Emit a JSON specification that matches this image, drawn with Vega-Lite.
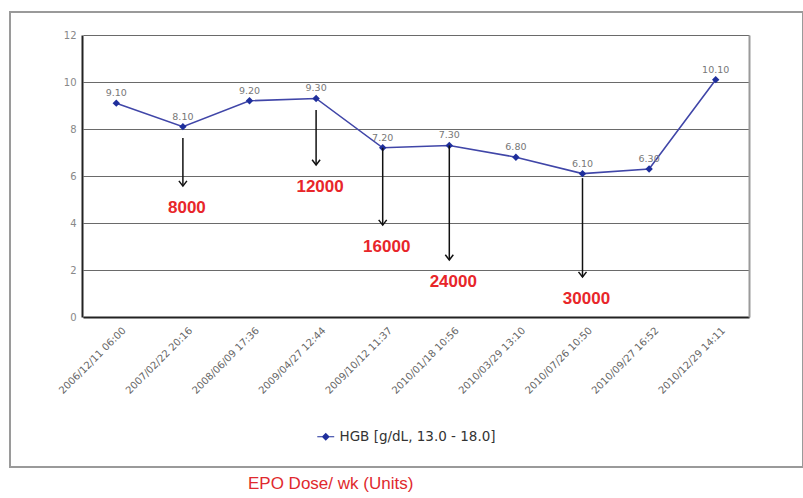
{
  "$schema": "https://vega.github.io/schema/vega-lite/v6.json",
  "width": 793,
  "height": 455,
  "autosize": "none",
  "padding": {"left": 10, "top": 12, "right": 0, "bottom": 31},
  "background": "white",
  "config": {"view": {"stroke": "#9a9a9a", "strokeWidth": 2}, "font": "DejaVu Sans"},
  "title": {"text": "EPO Dose/ wk (Units)", "orient": "bottom", "anchor": "start", "dx": 238, "offset": 9, "color": "#e0292e", "font": "Liberation Sans", "fontSize": 17, "fontWeight": "normal"},
  "datasets": {
    "hgb": [
      {"date": "2006/12/11 06:00", "hgb": 9.1, "series": "HGB [g/dL, 13.0 - 18.0]"},
      {"date": "2007/02/22 20:16", "hgb": 8.1, "series": "HGB [g/dL, 13.0 - 18.0]"},
      {"date": "2008/06/09 17:36", "hgb": 9.2, "series": "HGB [g/dL, 13.0 - 18.0]"},
      {"date": "2009/04/27 12:44", "hgb": 9.3, "series": "HGB [g/dL, 13.0 - 18.0]"},
      {"date": "2009/10/12 11:37", "hgb": 7.2, "series": "HGB [g/dL, 13.0 - 18.0]"},
      {"date": "2010/01/18 10:56", "hgb": 7.3, "series": "HGB [g/dL, 13.0 - 18.0]"},
      {"date": "2010/03/29 13:10", "hgb": 6.8, "series": "HGB [g/dL, 13.0 - 18.0]"},
      {"date": "2010/07/26 10:50", "hgb": 6.1, "series": "HGB [g/dL, 13.0 - 18.0]"},
      {"date": "2010/09/27 16:52", "hgb": 6.3, "series": "HGB [g/dL, 13.0 - 18.0]"},
      {"date": "2010/12/29 14:11", "hgb": 10.1, "series": "HGB [g/dL, 13.0 - 18.0]"}
    ],
    "epo": [
      {"date": "2007/02/22 20:16", "start": 7.62, "end": 5.57, "dose": "8000"},
      {"date": "2009/04/27 12:44", "start": 8.81, "end": 6.47, "dose": "12000"},
      {"date": "2009/10/12 11:37", "start": 7.2, "end": 3.91, "dose": "16000"},
      {"date": "2010/01/18 10:56", "start": 7.3, "end": 2.43, "dose": "24000"},
      {"date": "2010/07/26 10:50", "start": 5.91, "end": 1.7, "dose": "30000"}
    ]
  },
  "layer": [
    {
      "data": {"name": "hgb"},
      "mark": {"type": "line", "color": "#4046a8", "strokeWidth": 1.6},
      "encoding": {
        "x": {"field": "date", "type": "nominal",
          "scale": {"type": "point", "domain": ["2006/12/11 06:00", "2007/02/22 20:16", "2008/06/09 17:36", "2009/04/27 12:44", "2009/10/12 11:37", "2010/01/18 10:56", "2010/03/29 13:10", "2010/07/26 10:50", "2010/09/27 16:52", "2010/12/29 14:11"], "range": [73, 739], "padding": 0.5},
          "axis": {"orient": "bottom", "offset": -150, "labelAngle": -45, "labelFontSize": 10, "labelColor": "#666", "ticks": false, "domainColor": "#222", "domainWidth": 2, "title": null, "labelPadding": 8, "labelOffset": 4, "grid": false}},
        "y": {"field": "hgb", "type": "quantitative",
          "scale": {"domain": [0, 12], "range": [305, 23], "nice": false},
          "axis": {"orient": "left", "offset": -72, "values": [0, 2, 4, 6, 8, 10, 12], "grid": true, "gridColor": "#6a6a6a", "gridWidth": 1, "domainColor": "#222", "domainWidth": 2, "ticks": false, "labelColor": "#888", "labelFontSize": 10, "labelPadding": 6, "title": null}}
      }
    },
    {
      "data": {"name": "hgb"},
      "mark": {"type": "point", "shape": "diamond", "filled": true, "size": 55, "opacity": 1},
      "encoding": {
        "x": {"field": "date", "type": "nominal"},
        "y": {"field": "hgb", "type": "quantitative", "axis": null},
        "color": {"field": "series", "type": "nominal", "scale": {"range": ["#1f2f9c"]},
          "legend": {"title": null, "orient": "none", "legendX": 309, "legendY": 418, "symbolType": "M-1.6,-0.1L1.6,-0.1L1.6,0.1L-1.6,0.1Z M0,-0.75L0.75,0L0,0.75L-0.75,0Z", "symbolSize": 112, "labelFontSize": 13.5, "labelColor": "#333", "labelOffset": 7}}
      }
    },
    {
      "data": {"name": "hgb"},
      "mark": {"type": "text", "dy": -10, "fontSize": 9.5, "color": "#777"},
      "encoding": {
        "x": {"field": "date", "type": "nominal"},
        "y": {"field": "hgb", "type": "quantitative", "axis": null},
        "text": {"field": "hgb", "type": "quantitative", "format": ".2f"}
      }
    },
    {
      "data": {"name": "epo"},
      "mark": {"type": "rule", "color": "#111", "strokeWidth": 1.5},
      "encoding": {
        "x": {"field": "date", "type": "nominal"},
        "y": {"field": "start", "type": "quantitative",
          "axis": {"orient": "right", "offset": -54, "labels": false, "ticks": false, "grid": false, "domainColor": "#9a9a9a", "domainWidth": 2, "title": null}},
        "y2": {"field": "end"}
      }
    },
    {
      "data": {"name": "epo"},
      "mark": {"type": "point", "shape": "M-1,-1.3L0,0L1,-1.3", "filled": false, "size": 64, "stroke": "#111", "strokeWidth": 1.5, "opacity": 1},
      "encoding": {
        "x": {"field": "date", "type": "nominal"},
        "y": {"field": "end", "type": "quantitative", "axis": null}
      }
    },
    {
      "data": {"name": "epo"},
      "mark": {"type": "text", "dy": 22, "dx": 4, "fontSize": 17, "fontWeight": "bold", "color": "#e8262a", "font": "Liberation Sans", "baseline": "middle"},
      "encoding": {
        "x": {"field": "date", "type": "nominal"},
        "y": {"field": "end", "type": "quantitative", "axis": null},
        "text": {"field": "dose", "type": "nominal"}
      }
    }
  ],
  "resolve": {"axis": {"y": "independent"}}
}
